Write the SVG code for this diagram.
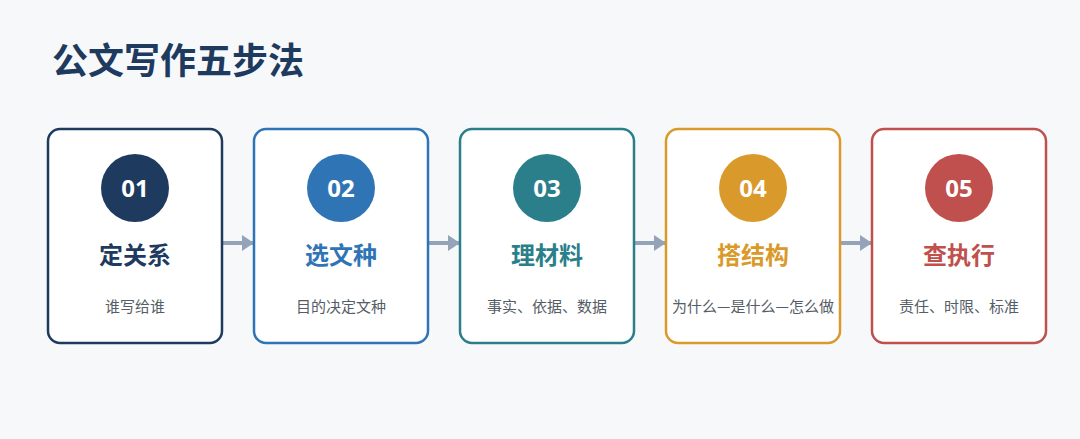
<svg xmlns="http://www.w3.org/2000/svg" width="1080" height="439" viewBox="0 0 1080 439">
<defs>
<style>
.box{fill:#fff;stroke-width:2.5}
.num{font-family:"Noto Sans","Noto Sans CJK SC",sans-serif;font-weight:bold;font-size:24px;fill:#fff;text-anchor:middle}
.ttl{font-family:"Noto Sans CJK SC",sans-serif;font-weight:bold;font-size:24px;text-anchor:middle}
.sub{font-family:"Noto Sans CJK SC",sans-serif;font-size:15px;fill:#555d66;text-anchor:middle}
.arr{stroke:#94a3b8;stroke-width:4;fill:none}
</style>
<marker id="ah" markerWidth="4" markerHeight="4" refX="3" refY="2" orient="auto" markerUnits="strokeWidth"><path d="M0,0 L3,2 L0,4 Z" fill="#94a3b8"/></marker>
</defs>
<rect width="1080" height="439" fill="#f7f8fa"/>
<text x="52" y="74" font-family="Noto Sans CJK SC,sans-serif" font-weight="bold" font-size="36" fill="#1e3a5f">公文写作五步法</text>
<g id="connectors">
<line class="arr" x1="222" y1="243" x2="254" y2="243" marker-end="url(#ah)"/>
<line class="arr" x1="428" y1="243" x2="460" y2="243" marker-end="url(#ah)"/>
<line class="arr" x1="634" y1="243" x2="666" y2="243" marker-end="url(#ah)"/>
<line class="arr" x1="840" y1="243" x2="872" y2="243" marker-end="url(#ah)"/>
</g>
<g id="n1"><rect class="box" x="48" y="129" width="174" height="214" rx="12" stroke="#1e3a5f"/><circle cx="135" cy="188" r="34" fill="#1e3a5f"/><text class="num" x="135" y="197">01</text><text class="ttl" x="135" y="264" fill="#1e3a5f">定关系</text><text class="sub" x="135" y="312">谁写给谁</text></g>
<g id="n2"><rect class="box" x="254" y="129" width="174" height="214" rx="12" stroke="#2f75b5"/><circle cx="341" cy="188" r="34" fill="#2f75b5"/><text class="num" x="341" y="197">02</text><text class="ttl" x="341" y="264" fill="#2f75b5">选文种</text><text class="sub" x="341" y="312">目的决定文种</text></g>
<g id="n3"><rect class="box" x="460" y="129" width="174" height="214" rx="12" stroke="#2a7f8a"/><circle cx="547" cy="188" r="34" fill="#2a7f8a"/><text class="num" x="547" y="197">03</text><text class="ttl" x="547" y="264" fill="#2a7f8a">理材料</text><text class="sub" x="547" y="312">事实、依据、数据</text></g>
<g id="n4"><rect class="box" x="666" y="129" width="174" height="214" rx="12" stroke="#d99a2b"/><circle cx="753" cy="188" r="34" fill="#d99a2b"/><text class="num" x="753" y="197">04</text><text class="ttl" x="753" y="264" fill="#d99a2b">搭结构</text><text class="sub" x="753" y="312">为什么—是什么—怎么做</text></g>
<g id="n5"><rect class="box" x="872" y="129" width="174" height="214" rx="12" stroke="#c0504d"/><circle cx="959" cy="188" r="34" fill="#c0504d"/><text class="num" x="959" y="197">05</text><text class="ttl" x="959" y="264" fill="#c0504d">查执行</text><text class="sub" x="959" y="312">责任、时限、标准</text></g>
</svg>
